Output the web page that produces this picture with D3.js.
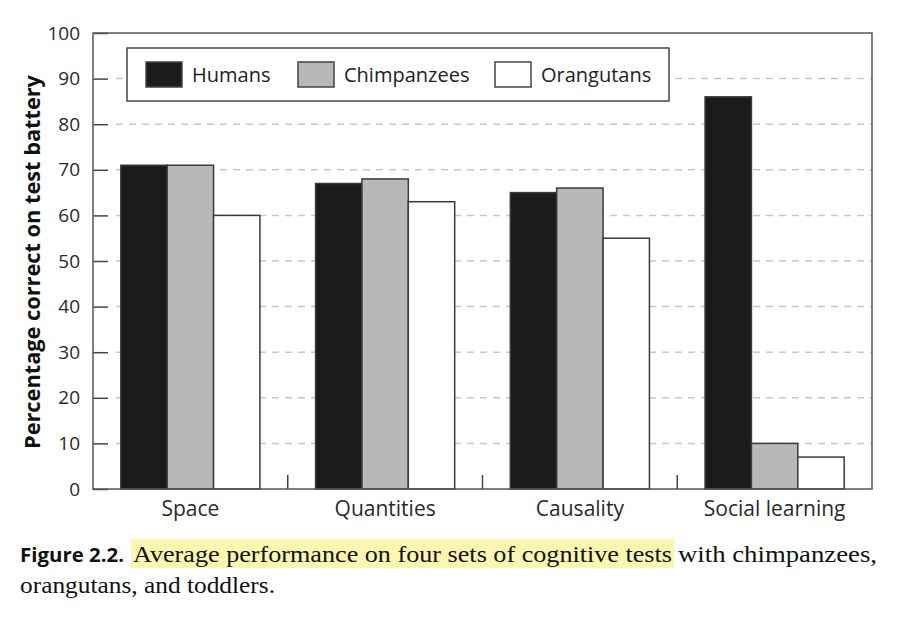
<!DOCTYPE html>
<html>
<head>
<meta charset="utf-8">
<script src="https://cdn.jsdelivr.net/npm/d3@7"></script>
<style>
  body { margin: 0; background: #fff; }
  svg { display: block; }
  .tick text { fill: #2a2a2a; }
</style>
</head>
<body>
<div id="chart"></div>
<script>
var categories = ["Space", "Quantities", "Causality", "Social learning"];
var series = ["Humans", "Chimpanzees", "Orangutans"];
var humans = [71, 67, 65, 86];
var chimps = [71, 68, 66, 10];
var orangs = [60, 63, 55, 7];
var yTicks = [0, 10, 20, 30, 40, 50, 60, 70, 80, 90, 100];

var values = [humans, chimps, orangs];
var fills = ["#1b1b1b", "#b8b8b8", "#ffffff"];

var width = 898, height = 620;
var margin = {top: 33, right: 26, bottom: 131, left: 93};
var w = width - margin.left - margin.right;
var h = height - margin.top - margin.bottom;

var svg = d3.select("#chart").append("svg")
    .attr("width", width)
    .attr("height", height);

svg.append("rect").attr("width", width).attr("height", height).attr("fill", "#fff");

var g = svg.append("g")
    .attr("transform", `translate(${margin.left},${margin.top})`);

var x = d3.scaleBand().domain(categories).range([0, w]).padding(0);
var xSub = d3.scaleBand().domain(series).range([0, x.bandwidth()])
    .paddingInner(0).paddingOuter(0.6);
var y = d3.scaleLinear().domain([0, 100]).range([h, 0]);

// dashed grid
g.append("g").selectAll("line")
    .data(yTicks.filter(d => d > 0 && d < 100))
    .join("line")
    .attr("x1", 23).attr("x2", w)
    .attr("y1", d => y(d)).attr("y2", d => y(d))
    .attr("stroke", "#c8c8c8")
    .attr("stroke-width", 1.5)
    .attr("stroke-dasharray", "7,6");

// bars
var rows = [];
categories.forEach(function(c, i) {
  series.forEach(function(s, j) {
    rows.push({cat: c, ser: s, val: values[j][i], fill: fills[j]});
  });
});

g.append("g").selectAll("rect")
    .data(rows)
    .join("rect")
    .attr("x", d => x(d.cat) + xSub(d.ser))
    .attr("y", d => y(d.val))
    .attr("width", xSub.bandwidth())
    .attr("height", d => h - y(d.val))
    .attr("fill", d => d.fill)
    .attr("stroke", "#3a3a3a")
    .attr("stroke-width", 1.5);

// y axis
var yAxis = g.append("g")
    .call(d3.axisLeft(y).tickValues(yTicks).tickSize(-15).tickPadding(13));
yAxis.select(".domain").remove();
yAxis.selectAll(".tick line").attr("stroke", "#444").attr("stroke-width", 1.5);
yAxis.selectAll("text")
    .style("font-family", "'Open Sans', sans-serif")
    .style("font-size", "19px");

// x axis labels
var xAxis = g.append("g")
    .attr("transform", `translate(0,${h})`)
    .call(d3.axisBottom(x).tickSize(0).tickPadding(12));
xAxis.select(".domain").remove();
xAxis.selectAll("text")
    .style("font-family", "'Open Sans', sans-serif")
    .style("font-size", "21px");

// group separators on the baseline
g.append("g").selectAll("line")
    .data(categories.slice(1))
    .join("line")
    .attr("x1", d => x(d)).attr("x2", d => x(d))
    .attr("y1", h).attr("y2", h - 14)
    .attr("stroke", "#444")
    .attr("stroke-width", 1.5);

// frame
g.append("rect")
    .attr("width", w).attr("height", h)
    .attr("fill", "none")
    .attr("stroke", "#555")
    .attr("stroke-width", 1.5);

// y label
svg.append("text")
    .attr("transform", `translate(40,${margin.top + h / 2 + 1}) rotate(-90)`)
    .attr("text-anchor", "middle")
    .attr("textLength", 374)
    .attr("lengthAdjust", "spacingAndGlyphs")
    .style("font-family", "'Open Sans', sans-serif")
    .style("font-weight", "bold")
    .style("font-size", "21px")
    .attr("fill", "#111")
    .text("Percentage correct on test battery");

// legend
var legend = svg.append("g").attr("transform", "translate(127,48)");
legend.append("rect")
    .attr("width", 542).attr("height", 53)
    .attr("fill", "#fff")
    .attr("stroke", "#444")
    .attr("stroke-width", 1.5);

var legX = [19, 171, 368];
var items = legend.selectAll("g.item")
    .data(series)
    .join("g")
    .attr("class", "item")
    .attr("transform", (d, i) => `translate(${legX[i]},14)`);
items.append("rect")
    .attr("width", 36).attr("height", 25)
    .attr("fill", (d, i) => fills[i])
    .attr("stroke", "#444")
    .attr("stroke-width", 1.5);
items.append("text")
    .attr("x", 46).attr("y", 20)
    .style("font-family", "'Open Sans', sans-serif")
    .style("font-size", "20px")
    .attr("fill", "#222")
    .text(d => d);

// caption
svg.append("rect")
    .attr("x", 131).attr("y", 539)
    .attr("width", 543).attr("height", 29)
    .attr("fill", "#fbf7ae");

var serif = "'Liberation Serif', serif";
svg.append("text")
    .attr("x", 20).attr("y", 562)
    .attr("fill", "#111")
    .attr("textLength", 104)
    .attr("lengthAdjust", "spacingAndGlyphs")
    .style("font-family", "'Open Sans', sans-serif")
    .style("font-weight", "bold")
    .style("font-size", "19px")
    .text("Figure 2.2.");
svg.append("text")
    .attr("x", 133).attr("y", 562)
    .attr("fill", "#111")
    .attr("textLength", 539)
    .attr("lengthAdjust", "spacingAndGlyphs")
    .style("font-family", serif)
    .style("font-size", "23px")
    .text("Average performance on four sets of cognitive tests");
svg.append("text")
    .attr("x", 678).attr("y", 562)
    .attr("fill", "#111")
    .attr("textLength", 199)
    .attr("lengthAdjust", "spacingAndGlyphs")
    .style("font-family", serif)
    .style("font-size", "23px")
    .text("with chimpanzees,");
svg.append("text")
    .attr("x", 20).attr("y", 593)
    .attr("fill", "#111")
    .attr("textLength", 255)
    .attr("lengthAdjust", "spacingAndGlyphs")
    .style("font-family", serif)
    .style("font-size", "23px")
    .text("orangutans, and toddlers.");
</script>
</body>
</html>
